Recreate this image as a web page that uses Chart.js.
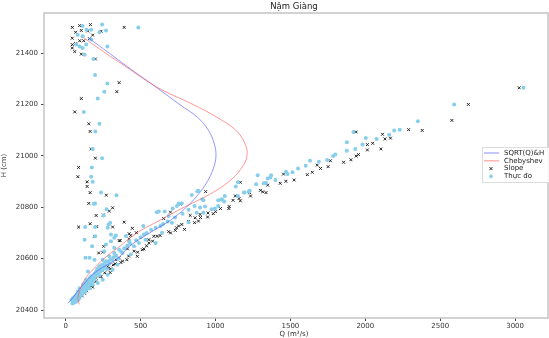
<!DOCTYPE html>
<html>
<head>
<meta charset="utf-8">
<script src="https://cdn.jsdelivr.net/npm/chart.js@4"></script>
<style>
  body { margin: 0; background: #fff; }
  canvas { display: block; }
</style>
</head>
<body>
<canvas id="chart" width="549" height="338"></canvas>
<script>
// tick labels
const xTicks = [0, 500, 1000, 1500, 2000, 2500, 3000];
const yTicks = [20400, 20600, 20800, 21000, 21200, 21400];

// duong SQRT(Q)&H
const sqrtH = [20426, 20450, 20500, 20550, 20600, 20650, 20700, 20750, 20800, 20850, 20900, 20950, 21000, 21050, 21100, 21150, 21200, 21256, 21300, 21350, 21400, 21460];
const sqrtQ = [15, 50, 119, 205, 345, 430, 560, 700, 805, 885, 945, 985, 1003, 990, 952, 880, 760, 630, 525, 405, 290, 150];

// duong Chebyshev
const chebH = [20422, 20450, 20500, 20529, 20550, 20600, 20650, 20700, 20750, 20800, 20850, 20900, 20950, 21000, 21050, 21100, 21150, 21200, 21256, 21300, 21350, 21400, 21460];
const chebQ = [90, 82, 110, 139, 170, 255, 365, 475, 630, 790, 960, 1090, 1170, 1210, 1195, 1135, 1010, 850, 645, 520, 395, 265, 120];

// diem Slope
const slopeQ = [44, 93, 165, 390, 66, 104, 147, 236, 180, 44, 93, 120, 159, 44, 66, 44, 60, 104, 198, 357, 341, 104, 60, 154, 163, 170, 198, 86, 81, 143, 143, 163, 271, 154, 291, 313, 203, 86, 163, 207, 390, 445, 313, 357, 434, 423, 192, 253, 220,
  251, 471, 423, 364, 247, 412, 456, 522, 478, 408, 357, 368, 317, 286, 297, 236, 180, 159, 126, 137, 104, 203, 280, 335, 71, 654, 687, 754, 775, 793, 765, 831, 864, 897, 732, 588, 555, 610, 555, 511, 699,
  75, 90, 110, 140, 170, 200, 230, 260, 300, 330, 380, 420, 480, 540, 580, 630, 700, 740, 820, 860, 900, 950,
  886, 947, 985, 1000, 1033, 1089, 1091, 1117, 1166, 1157, 1132, 1234, 1300, 1315, 1337, 1348, 1166, 934, 1227, 1432, 1470, 1525, 1454, 1613, 1646, 1679, 1701, 1752, 1767, 1855, 1904, 1939, 1954, 2014, 2014, 2049, 2104, 2115, 2131, 2168, 2289, 2380, 1939, 2578, 2688, 3027];
const slopeH = [21500, 21507, 21511, 21500, 21481, 21488, 21486, 21485, 21470, 21458, 21448, 21448, 21456, 21433, 21437, 21420, 21406, 21396, 21377, 21285, 21250, 21223, 21171, 21125, 21095, 21027, 20991, 20955, 20919, 20899, 20881, 20857, 20847, 20815, 20785, 20798, 20768, 20723, 20736, 20725, 20742, 20718, 20723, 20670, 20690, 20677, 20687, 20648, 20622,
  20770, 20701, 20697, 20670, 20625, 20638, 20629, 20638, 20609, 20596, 20603, 20585, 20576, 20563, 20546, 20531, 20489, 20485, 20465, 20498, 20478, 20524, 20570, 20596, 20446, 20756, 20705, 20727, 20733, 20714, 20812, 20768, 20759, 20772, 20710, 20687, 20674, 20687, 20661, 20635, 20781,
  20437, 20448, 20455, 20475, 20495, 20510, 20530, 20545, 20560, 20580, 20590, 20610, 20625, 20650, 20668, 20690, 20700, 20720, 20745, 20740, 20760, 20778,
  20746, 20762, 20775, 20783, 20795, 20795, 20803, 20827, 20825, 20834, 20844, 20844, 20866, 20860, 20857, 20886, 20897, 20861, 20857, 20893, 20901, 20906, 20929, 20927, 20936, 20964, 20951, 20958, 20981, 20975, 20985, 20999, 21005, 21023, 21044, 21049, 21027, 21084, 21066, 21069, 21102, 21099, 21093, 21138, 21200, 21265];

// diem Thuc do
const measQ = [243, 485, 113, 139, 170, 269, 225, 80, 113, 170, 71, 93, 113, 137, 278, 126, 185, 196, 278, 258, 214, 121, 225, 198, 180, 243, 174, 170, 180, 236, 339, 196, 273, 253, 130, 196, 280, 518, 196,
  187, 286, 297, 302, 335, 126, 176, 132, 159, 269, 302, 324, 258, 192, 324, 423, 401, 489, 522, 533, 643, 632, 621, 661, 714, 742, 775, 820, 874, 897, 1018, 1040, 687, 709, 600, 456, 434, 379, 346, 313, 280, 247, 214, 180, 159, 137, 115, 93, 71, 60, 48, 38, 60, 137, 115, 203, 225, 258, 148, 170, 247, 291, 324, 357, 93, 81, 754, 608, 842, 879, 912,
  50, 55, 65, 75, 85, 100, 105, 120, 130, 150, 160, 190, 210, 240, 270, 90, 110, 125, 150, 170, 195, 230, 260, 290, 310, 45,
  62, 70, 78, 85, 95, 102, 110, 118, 128, 135, 142, 150, 158, 165, 175, 182, 190, 200, 208, 218, 225, 235, 245, 255, 265, 275, 285, 300, 320, 335, 350, 370, 390, 410, 430, 470, 500, 540, 570, 600, 650, 680, 730, 780, 820, 860,
  886, 919, 919, 930, 974, 996, 1018, 1058, 1044, 1062, 1150, 1135, 1150, 1190, 1221, 1228, 1271, 1282, 1322, 1348, 1366, 1371, 1400, 1481, 1470, 1514, 1551, 1602, 1631, 1690, 1745, 1785, 1800, 1877, 1877, 1921, 1933, 1981, 2003, 2076, 2160, 2193, 2230, 2351, 2593, 3056, 1337, 1194];
const measH = [21511, 21500, 21505, 21491, 21491, 21488, 21481, 21471, 21466, 21453, 21433, 21426, 21420, 21433, 21426, 21394, 21377, 21315, 21282, 21250, 21223, 21171, 21125, 21095, 21027, 20991, 20955, 20919, 20899, 20857, 20847, 20815, 20792, 20768, 20723, 20723, 20720, 20727, 20687,
  20814, 20733, 20740, 20694, 20690, 20674, 20648, 20603, 20603, 20655, 20668, 20681, 20629, 20596, 20642, 20668, 20688, 20661, 20694, 20674, 20701, 20727, 20783, 20783, 20795, 20805, 20816, 20742, 20779, 20799, 20827, 20831, 20766, 20740, 20661, 20648, 20616, 20622, 20576, 20557, 20537, 20518, 20505, 20498, 20485, 20478, 20472, 20465, 20459, 20452, 20446, 20439, 20433, 20518, 20498, 20550, 20570, 20583, 20550, 20531, 20596, 20609, 20622, 20635, 20485, 20472, 20815, 20781, 20848, 20862, 20831,
  20440, 20428, 20445, 20450, 20460, 20465, 20480, 20490, 20505, 20510, 20525, 20540, 20560, 20575, 20590, 20455, 20470, 20480, 20495, 20515, 20525, 20550, 20565, 20580, 20595, 20425,
  20440, 20432, 20447, 20440, 20452, 20458, 20462, 20475, 20470, 20488, 20495, 20485, 20505, 20500, 20510, 20525, 20518, 20535, 20540, 20548, 20535, 20560, 20555, 20572, 20575, 20560, 20590, 20598, 20605, 20612, 20600, 20628, 20640, 20650, 20658, 20672, 20683, 20700, 20712, 20720, 20735, 20745, 20760, 20775, 20790, 20805,
  20864, 20827, 20779, 20803, 20792, 20795, 20805, 20822, 20829, 20844, 20844, 20881, 20897, 20857, 20860, 20864, 20890, 20925, 20893, 20912, 20916, 20925, 20906, 20929, 20938, 20936, 20951, 20962, 20981, 20977, 20984, 20999, 21005, 21020, 21053, 21093, 21027, 21044, 21070, 21066, 21082, 21099, 21102, 21135, 21200, 21265, 20894, 20857];

const toPts = (qs, hs) => qs.map((q, i) => ({ x: q, y: hs[i] }));

const FONT = "'DejaVu Sans', sans-serif";

// khung, tieu de va chu thich ve tay cho giong matplotlib
const decor = {
  id: "decor",
  afterDraw(chart) {
    const { ctx, chartArea: a } = chart;
    ctx.save();
    ctx.strokeStyle = "#c4c4c4";
    ctx.lineWidth = 1.5;
    ctx.strokeRect(a.left, a.top, a.right - a.left + 4, a.bottom - a.top);

    ctx.fillStyle = "#222";
    ctx.font = "8.5px " + FONT;
    ctx.textAlign = "center";
    ctx.textBaseline = "middle";
    ctx.fillText("Nậm Giàng", (a.left + a.right) / 2, 7);

    // legend
    const lx = 482, ly = 147;
    ctx.fillStyle = "rgba(255,255,255,0.85)";
    ctx.strokeStyle = "#dcdcdc";
    ctx.lineWidth = 1;
    ctx.fillRect(lx, ly, 70, 35);
    ctx.strokeRect(lx + 0.5, ly + 0.5, 70, 35);
    const items = [
      { label: "SQRT(Q)&H", kind: "line", color: "rgba(80,80,255,0.55)" },
      { label: "Chebyshev", kind: "line", color: "rgba(255,80,80,0.55)" },
      { label: "Slope", kind: "x", color: "#222" },
      { label: "Thực đo", kind: "dot", color: "#87ceeb" }
    ];
    ctx.font = "7px " + FONT;
    ctx.textAlign = "left";
    items.forEach((it, i) => {
      const y = ly + 6 + i * 7.8;
      ctx.strokeStyle = it.color;
      ctx.fillStyle = it.color;
      if (it.kind === "line") {
        ctx.lineWidth = 1.2;
        ctx.beginPath();
        ctx.moveTo(484, y);
        ctx.lineTo(499, y);
        ctx.stroke();
      } else if (it.kind === "x") {
        ctx.lineWidth = 1;
        ctx.beginPath();
        ctx.moveTo(489.5, y - 1.5); ctx.lineTo(492.5, y + 1.5);
        ctx.moveTo(489.5, y + 1.5); ctx.lineTo(492.5, y - 1.5);
        ctx.stroke();
      } else {
        ctx.beginPath();
        ctx.arc(491, y, 1.8, 0, Math.PI * 2);
        ctx.fill();
      }
      ctx.fillStyle = "#222";
      ctx.fillText(it.label, 504, y);
    });
    ctx.restore();
  }
};

new Chart(document.getElementById("chart"), {
  type: "scatter",
  data: {
    datasets: [
      {
        label: "SQRT(Q)&H",
        data: toPts(sqrtQ, sqrtH),
        showLine: true,
        borderColor: "rgba(80,80,255,0.6)",
        borderWidth: 1,
        pointRadius: 0,
        tension: 0.4,
        order: 2
      },
      {
        label: "Chebyshev",
        data: toPts(chebQ, chebH),
        showLine: true,
        borderColor: "rgba(255,80,80,0.6)",
        borderWidth: 1,
        pointRadius: 0,
        tension: 0.4,
        order: 1
      },
      {
        label: "Slope",
        data: toPts(slopeQ, slopeH),
        pointStyle: "crossRot",
        pointRadius: 2,
        borderColor: "#222",
        borderWidth: 1,
        order: 4
      },
      {
        label: "Thực đo",
        data: toPts(measQ, measH),
        pointStyle: "circle",
        pointRadius: 2,
        backgroundColor: "#87ceeb",
        borderWidth: 0,
        order: 3
      }
    ]
  },
  options: {
    responsive: false,
    animation: false,
    layout: { padding: { top: 13, left: 0, right: 0, bottom: 0 } },
    plugins: {
      legend: { display: false },
      title: { display: false },
      tooltip: { enabled: false }
    },
    scales: {
      x: {
        type: "linear",
        min: -145,
        max: 3193,
        afterBuildTicks: s => { s.ticks = xTicks.map(v => ({ value: v })); },
        afterFit: s => { s.height = 20; },
        border: { display: false },
        grid: { drawOnChartArea: false, drawTicks: true, tickLength: 3, color: "#444" },
        ticks: { font: { family: FONT, size: 7 }, color: "#333", padding: 1, maxRotation: 0, callback: v => String(v) },
        title: { display: true, text: "Q (m³/s)", font: { family: FONT, size: 7 }, color: "#333", padding: 0 }
      },
      y: {
        type: "linear",
        min: 20369,
        max: 21556,
        afterBuildTicks: s => { s.ticks = yTicks.map(v => ({ value: v })); },
        afterFit: s => { s.width = 44; },
        border: { display: false },
        grid: { drawOnChartArea: false, drawTicks: true, tickLength: 3, color: "#444" },
        ticks: { font: { family: FONT, size: 7 }, color: "#333", padding: 3, callback: v => String(v) },
        title: { display: true, text: "H (cm)", font: { family: FONT, size: 7 }, color: "#333", padding: 0 }
      }
    }
  },
  plugins: [decor]
});
</script>
</body>
</html>
